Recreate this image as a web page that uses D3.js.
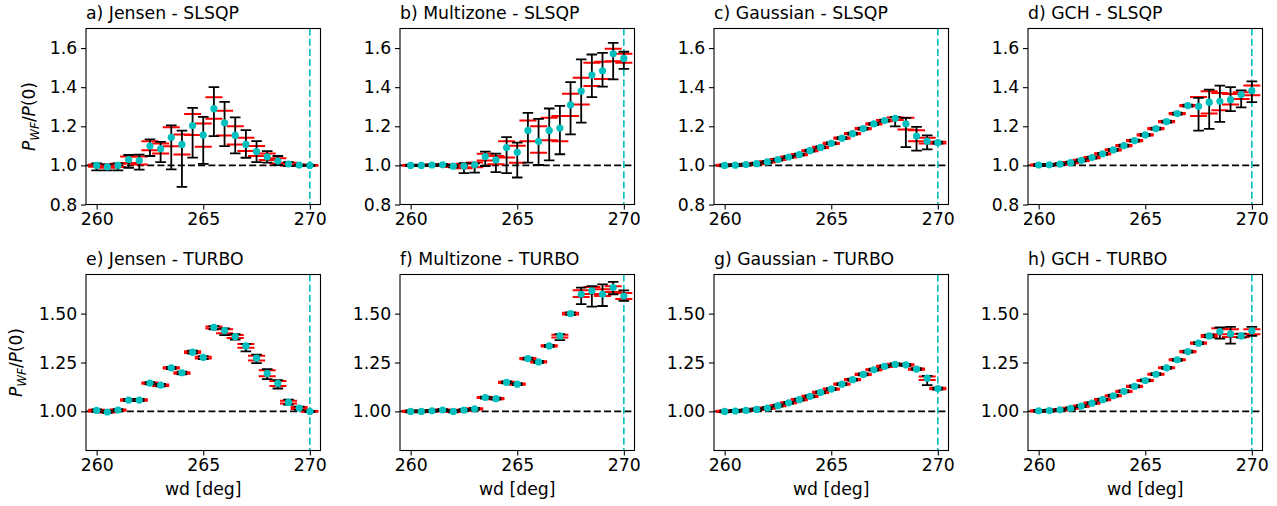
<!DOCTYPE html>
<html>
<head>
<meta charset="utf-8">
<script src="https://cdnjs.cloudflare.com/ajax/libs/d3/7.8.5/d3.min.js"></script>
<style>
	body { margin: 0; background: #fff; }
	svg { display: block; font-family: "DejaVu Sans", sans-serif; }
</style>
</head>
<body>
<svg id="chart" width="1277" height="506"></svg>
<script>
"use strict"

// wind directions (x)
var wd = [260, 260.5, 261, 261.5, 262, 262.5, 263, 263.5, 264, 264.5, 265,
	265.5, 266, 266.5, 267, 267.5, 268, 268.5, 269, 269.5, 270];

var titles = ["a) Jensen - SLSQP", "b) Multizone - SLSQP", "c) Gaussian - SLSQP", "d) GCH - SLSQP",
	"e) Jensen - TURBO", "f) Multizone - TURBO", "g) Gaussian - TURBO", "h) GCH - TURBO"];
var xTicks = [260, 265, 270];
var yTicksTop = [0.8, 1.0, 1.2, 1.4, 1.6];
var yTicksBottom = [1.00, 1.25, 1.50];

// a) Jensen - SLSQP
var jensenSlsqpMean = [1.000, 0.992, 1.000, 1.030, 1.025, 1.099, 1.085, 1.144, 1.107, 1.204, 1.155,
	1.290, 1.218, 1.153, 1.107, 1.070, 1.044, 1.022, 1.007, 1.002, 1.000];
var jensenSlsqpBar = [[0.975,1.010],[0.975,1.005],[0.975,1.010],[0.988,1.053],[0.978,1.055],[1.048,1.133],
	[1.017,1.120],[0.980,1.205],[0.890,1.178],[1.040,1.294],[1.008,1.248],[1.150,1.400],[1.099,1.325],
	[1.061,1.246],[1.039,1.180],[1.017,1.124],[1.014,1.073],[1.002,1.048],[0.997,1.017],[0.998,1.004],[0.998,1.002]];
var jensenSlsqpStd = [[0.993,1.005],[0.988,1.002],[0.992,1.008],[1.012,1.046],[1.005,1.045],[1.078,1.124],
	[1.061,1.112],[1.098,1.195],[1.056,1.158],[1.155,1.263],[1.095,1.214],[1.238,1.348],[1.153,1.280],
	[1.107,1.200],[1.073,1.141],[1.048,1.099],[1.027,1.061],[1.010,1.036],[1.000,1.014],[0.999,1.005],[0.999,1.001]];

// b) Multizone - SLSQP
var multizoneSlsqpMean = [1.000, 1.000, 1.002, 1.003, 0.996, 0.996, 1.003, 1.045, 1.028, 1.091, 1.067,
	1.179, 1.123, 1.179, 1.191, 1.309, 1.380, 1.462, 1.484, 1.571, 1.547];
var multizoneSlsqpBar = [[0.996,1.004],[0.996,1.004],[0.998,1.005],[0.998,1.007],[0.990,1.002],[0.960,1.012],
	[0.963,1.010],[0.997,1.070],[0.966,1.060],[0.960,1.145],[0.938,1.116],[1.014,1.269],[1.002,1.238],
	[1.026,1.291],[1.057,1.304],[1.159,1.426],[1.219,1.542],[1.349,1.567],[1.403,1.575],[1.440,1.627],[1.494,1.581]];
var multizoneSlsqpStd = [[0.998,1.002],[0.998,1.002],[1.000,1.004],[1.000,1.006],[0.992,1.000],[0.985,1.008],
	[0.990,1.015],[1.025,1.059],[1.006,1.048],[1.040,1.124],[1.014,1.100],[1.124,1.230],[1.065,1.200],
	[1.128,1.243],[1.124,1.252],[1.252,1.366],[1.312,1.448],[1.406,1.525],[1.442,1.530],[1.533,1.596],[1.525,1.571]];

// c) Gaussian - SLSQP
var gaussSlsqpMean = [1.000, 1.001, 1.004, 1.009, 1.018, 1.030, 1.043, 1.055, 1.075, 1.092, 1.113,
	1.139, 1.162, 1.188, 1.212, 1.229, 1.241, 1.213, 1.150, 1.124, 1.116];
var gaussSlsqpBar = [[0.995,1.005],[0.996,1.006],[0.999,1.009],[1.004,1.014],[1.013,1.023],[1.025,1.035],
	[1.038,1.048],[1.050,1.060],[1.070,1.080],[1.087,1.097],[1.108,1.118],[1.134,1.144],[1.157,1.167],
	[1.183,1.193],[1.207,1.217],[1.224,1.234],[1.200,1.248],[1.093,1.243],[1.076,1.197],[1.082,1.153],[1.111,1.121]];
var gaussSlsqpStd = [[0.997,1.003],[0.998,1.004],[1.001,1.007],[1.006,1.012],[1.015,1.021],[1.027,1.033],
	[1.040,1.046],[1.052,1.058],[1.072,1.078],[1.089,1.095],[1.110,1.116],[1.136,1.142],[1.159,1.165],
	[1.185,1.191],[1.209,1.215],[1.226,1.232],[1.232,1.245],[1.184,1.243],[1.124,1.180],[1.112,1.141],[1.112,1.121]];

// d) GCH - SLSQP
var gchSlsqpMean = [1.002, 1.003, 1.006, 1.014, 1.026, 1.040, 1.059, 1.079, 1.101, 1.127, 1.156,
	1.188, 1.224, 1.265, 1.306, 1.302, 1.323, 1.328, 1.336, 1.362, 1.382];
var gchSlsqpBar = [[0.997,1.007],[0.998,1.008],[1.001,1.011],[1.009,1.019],[1.021,1.031],[1.035,1.045],
	[1.054,1.064],[1.074,1.084],[1.096,1.106],[1.122,1.132],[1.151,1.161],[1.183,1.193],[1.219,1.229],
	[1.260,1.270],[1.301,1.311],[1.178,1.345],[1.187,1.387],[1.223,1.408],[1.277,1.400],[1.297,1.384],[1.323,1.430]];
var gchSlsqpStd = [[0.999,1.005],[1.000,1.006],[1.003,1.009],[1.011,1.017],[1.023,1.029],[1.037,1.043],
	[1.056,1.062],[1.076,1.082],[1.098,1.104],[1.124,1.130],[1.153,1.159],[1.185,1.191],[1.221,1.227],
	[1.262,1.268],[1.303,1.309],[1.252,1.350],[1.265,1.379],[1.282,1.370],[1.311,1.365],[1.340,1.374],[1.359,1.408]];

// e) Jensen - TURBO
var jensenTurboMean = [1.005, 0.997, 1.007, 1.058, 1.058, 1.145, 1.134, 1.223, 1.197, 1.303, 1.276,
	1.430, 1.413, 1.383, 1.335, 1.272, 1.194, 1.143, 1.046, 1.017, 1.000];
var jensenTurboBar = [[0.998,1.010],[0.992,1.004],[1.000,1.012],[1.052,1.064],[1.052,1.064],[1.138,1.150],
	[1.128,1.140],[1.216,1.228],[1.190,1.203],[1.296,1.310],[1.268,1.283],[1.420,1.436],[1.390,1.425],
	[1.367,1.395],[1.307,1.345],[1.247,1.290],[1.165,1.216],[1.117,1.160],[1.035,1.060],[1.008,1.024],[0.997,1.003]];
var jensenTurboStd = [[1.000,1.008],[0.994,1.002],[1.003,1.010],[1.054,1.062],[1.054,1.062],[1.141,1.148],
	[1.130,1.138],[1.219,1.226],[1.193,1.200],[1.299,1.307],[1.271,1.280],[1.424,1.434],[1.400,1.420],
	[1.375,1.390],[1.325,1.345],[1.260,1.285],[1.180,1.210],[1.130,1.155],[1.040,1.055],[1.012,1.022],[0.998,1.002]];

// f) Multizone - TURBO
var multizoneTurboMean = [1.000, 1.000, 1.003, 1.007, 1.000, 1.006, 1.013, 1.071, 1.065, 1.148, 1.139,
	1.270, 1.253, 1.335, 1.386, 1.500, 1.599, 1.616, 1.599, 1.633, 1.590];
var multizoneTurboBar = [[0.995,1.005],[0.995,1.005],[0.998,1.008],[1.002,1.012],[0.995,1.005],[1.001,1.011],
	[1.008,1.018],[1.066,1.076],[1.060,1.070],[1.143,1.153],[1.134,1.144],[1.265,1.275],[1.248,1.258],
	[1.330,1.340],[1.364,1.395],[1.494,1.506],[1.548,1.633],[1.536,1.641],[1.539,1.650],[1.599,1.662],[1.565,1.619]];
var multizoneTurboStd = [[0.997,1.003],[0.997,1.003],[1.000,1.006],[1.004,1.010],[0.997,1.003],[1.003,1.009],
	[1.010,1.016],[1.068,1.074],[1.062,1.068],[1.145,1.151],[1.136,1.142],[1.267,1.273],[1.250,1.256],
	[1.332,1.338],[1.378,1.392],[1.496,1.504],[1.585,1.620],[1.600,1.636],[1.590,1.625],[1.610,1.640],[1.575,1.605]];

// g) Gaussian - TURBO
var gaussTurboMean = [1.000, 1.002, 1.005, 1.010, 1.017, 1.029, 1.044, 1.060, 1.077, 1.097, 1.114,
	1.139, 1.162, 1.189, 1.213, 1.230, 1.240, 1.238, 1.216, 1.170, 1.117];
var gaussTurboBar = [[0.995,1.005],[0.997,1.007],[1.000,1.010],[1.005,1.015],[1.012,1.022],[1.024,1.034],
	[1.039,1.049],[1.055,1.065],[1.072,1.082],[1.092,1.102],[1.109,1.119],[1.134,1.144],[1.157,1.167],
	[1.184,1.194],[1.208,1.218],[1.225,1.235],[1.235,1.245],[1.233,1.243],[1.211,1.221],[1.134,1.182],[1.112,1.122]];
var gaussTurboStd = [[0.997,1.003],[0.999,1.005],[1.002,1.008],[1.007,1.013],[1.014,1.020],[1.026,1.032],
	[1.041,1.047],[1.057,1.063],[1.074,1.080],[1.094,1.100],[1.111,1.117],[1.136,1.142],[1.159,1.165],
	[1.186,1.192],[1.210,1.216],[1.227,1.233],[1.237,1.243],[1.235,1.241],[1.213,1.219],[1.160,1.178],[1.113,1.121]];

// h) GCH - TURBO
var gchTurboMean = [1.003, 1.004, 1.008, 1.016, 1.027, 1.042, 1.060, 1.080, 1.102, 1.128, 1.158,
	1.190, 1.223, 1.264, 1.306, 1.349, 1.386, 1.408, 1.396, 1.386, 1.412];
var gchTurboBar = [[0.998,1.008],[0.999,1.009],[1.003,1.013],[1.011,1.021],[1.022,1.032],[1.037,1.047],
	[1.055,1.065],[1.075,1.085],[1.097,1.107],[1.123,1.133],[1.153,1.163],[1.185,1.195],[1.218,1.228],
	[1.259,1.269],[1.301,1.311],[1.344,1.354],[1.378,1.392],[1.372,1.429],[1.347,1.432],[1.377,1.398],[1.386,1.432]];
var gchTurboStd = [[1.000,1.006],[1.001,1.007],[1.005,1.011],[1.013,1.019],[1.024,1.030],[1.039,1.045],
	[1.057,1.063],[1.077,1.083],[1.099,1.105],[1.125,1.131],[1.155,1.161],[1.187,1.193],[1.220,1.226],
	[1.261,1.267],[1.303,1.309],[1.346,1.352],[1.381,1.391],[1.395,1.425],[1.380,1.420],[1.380,1.396],[1.395,1.420]];

var panelMeans = [jensenSlsqpMean, multizoneSlsqpMean, gaussSlsqpMean, gchSlsqpMean,
	jensenTurboMean, multizoneTurboMean, gaussTurboMean, gchTurboMean];
var panelBars = [jensenSlsqpBar, multizoneSlsqpBar, gaussSlsqpBar, gchSlsqpBar,
	jensenTurboBar, multizoneTurboBar, gaussTurboBar, gchTurboBar];
var panelStds = [jensenSlsqpStd, multizoneSlsqpStd, gaussSlsqpStd, gchSlsqpStd,
	jensenTurboStd, multizoneTurboStd, gaussTurboStd, gchTurboStd];

//
// layout
//
var colLeft = [86, 400, 714, 1028];
var rowTop = [28.5, 274.5];
var panelW = 234.5;
var panelH = 176;
var fontSize = 17.3;
var cyan = "#00bfbf";
var halfStd = 0.4;   // red lines reach +-0.4 deg
var capW = 5.3;

var svg = d3.select("#chart");

function drawPanel(i) {
	var row = Math.floor(i / 4), col = i % 4;
	var mean = panelMeans[i], bars = panelBars[i], stds = panelStds[i];
	var data = wd.map(function(d, k) {
		return {x: d, m: mean[k], lo: bars[k][0], hi: bars[k][1], sLo: stds[k][0], sHi: stds[k][1]};
	});

	var x = d3.scaleLinear().domain([259.5, 270.5]).range([0, panelW]);
	var y = d3.scaleLinear().domain([0.8, 1.7]).range([panelH, 0]);

	var g = svg.append("g")
		.attr("transform", "translate(" + colLeft[col] + "," + rowTop[row] + ")")
		;
	var clipId = "clip" + i;
	g.append("clipPath").attr("id", clipId)
		.append("rect")
		.attr("width", panelW)
		.attr("height", panelH)
		;
	var plot = g.append("g").attr("clip-path", "url(#" + clipId + ")");

	// reference lines
	plot.append("line")
		.attr("x1", 0).attr("x2", panelW)
		.attr("y1", y(1)).attr("y2", y(1))
		.attr("stroke", "#000")
		.attr("stroke-width", 1.6)
		.attr("stroke-dasharray", "7,3.2")
		;
	plot.append("line")
		.attr("x1", x(270)).attr("x2", x(270))
		.attr("y1", 0).attr("y2", panelH)
		.attr("stroke", cyan)
		.attr("stroke-width", 1.6)
		.attr("stroke-dasharray", "7,3.2")
		;

	// red std lines
	var red = plot.append("g")
		.attr("stroke", "#ff0000")
		.attr("stroke-width", 2)
		;
	["sLo", "sHi"].forEach(function(key) {
		red.selectAll("line." + key).data(data).enter()
			.append("line").attr("class", key)
			.attr("x1", function(d) { return x(d.x - halfStd); })
			.attr("x2", function(d) { return x(d.x + halfStd); })
			.attr("y1", function(d) { return y(d[key]); })
			.attr("y2", function(d) { return y(d[key]); })
			;
	});

	// black error bars
	var eb = plot.append("g")
		.attr("stroke", "#000")
		.attr("stroke-width", 1.8)
		;
	eb.selectAll("line.bar").data(data).enter()
		.append("line").attr("class", "bar")
		.attr("x1", function(d) { return x(d.x); })
		.attr("x2", function(d) { return x(d.x); })
		.attr("y1", function(d) { return y(d.lo); })
		.attr("y2", function(d) { return y(d.hi); })
		;
	["lo", "hi"].forEach(function(key) {
		eb.selectAll("line.cap" + key).data(data).enter()
			.append("line").attr("class", "cap" + key)
			.attr("x1", function(d) { return x(d.x) - capW; })
			.attr("x2", function(d) { return x(d.x) + capW; })
			.attr("y1", function(d) { return y(d[key]); })
			.attr("y2", function(d) { return y(d[key]); })
			;
	});

	// mean dots
	plot.append("g").selectAll("circle").data(data).enter()
		.append("circle")
		.attr("cx", function(d) { return x(d.x); })
		.attr("cy", function(d) { return y(d.m); })
		.attr("r", 3.6)
		.attr("fill", cyan)
		;

	// axes
	var ax = g.append("g")
		.attr("transform", "translate(0," + panelH + ")")
		.call(d3.axisBottom(x).tickValues(xTicks).tickFormat(d3.format("d")).tickSize(5).tickPadding(3.5))
		;
	var yTicks = row == 0 ? yTicksTop : yTicksBottom;
	var ay = g.append("g")
		.call(d3.axisLeft(y).tickValues(yTicks).tickFormat(d3.format(row == 0 ? ".1f" : ".2f")).tickSize(5).tickPadding(3.7))
		;
	[ax, ay].forEach(function(a) {
		a.select(".domain").remove();
		a.selectAll("line").attr("stroke", "#000").attr("stroke-width", 1.1);
		a.selectAll("text")
			.attr("fill", "#000")
			.style("font-size", fontSize + "px")
			.style("font-family", "DejaVu Sans");
	});

	g.append("rect")
		.attr("width", panelW)
		.attr("height", panelH)
		.attr("fill", "none")
		.attr("stroke", "#000")
		.attr("stroke-width", 1.1)
		;

	g.append("text")
		.attr("x", 0)
		.attr("y", -10)
		.style("font-size", fontSize + "px")
		.text(titles[i])
		;

	if (row == 1) {
		g.append("text")
			.attr("x", panelW / 2)
			.attr("y", panelH + 44)
			.attr("text-anchor", "middle")
			.style("font-size", fontSize + "px")
			.text("wd [deg]")
			;
	}
	if (col == 0) {
		// mathtext style: P_{WF}/P(0)
		var lx = row == 0 ? -51 : -64;
		var fs = 17;
		var lab = g.append("text")
			.attr("transform", "translate(" + lx + "," + (panelH / 2) + ") rotate(-90)")
			.attr("text-anchor", "middle")
			.style("font-size", fs + "px")
			;
		lab.append("tspan").style("font-style", "italic").text("P");
		lab.append("tspan").attr("dy", fs * 0.25).style("font-style", "italic")
			.style("font-size", (fs * 0.7) + "px").text("WF");
		lab.append("tspan").attr("dy", -fs * 0.25).text("/");
		lab.append("tspan").style("font-style", "italic").text("P");
		lab.append("tspan").text("(0)");
	}
}

for (var i = 0; i < 8; i++) drawPanel(i);
</script>
</body>
</html>
